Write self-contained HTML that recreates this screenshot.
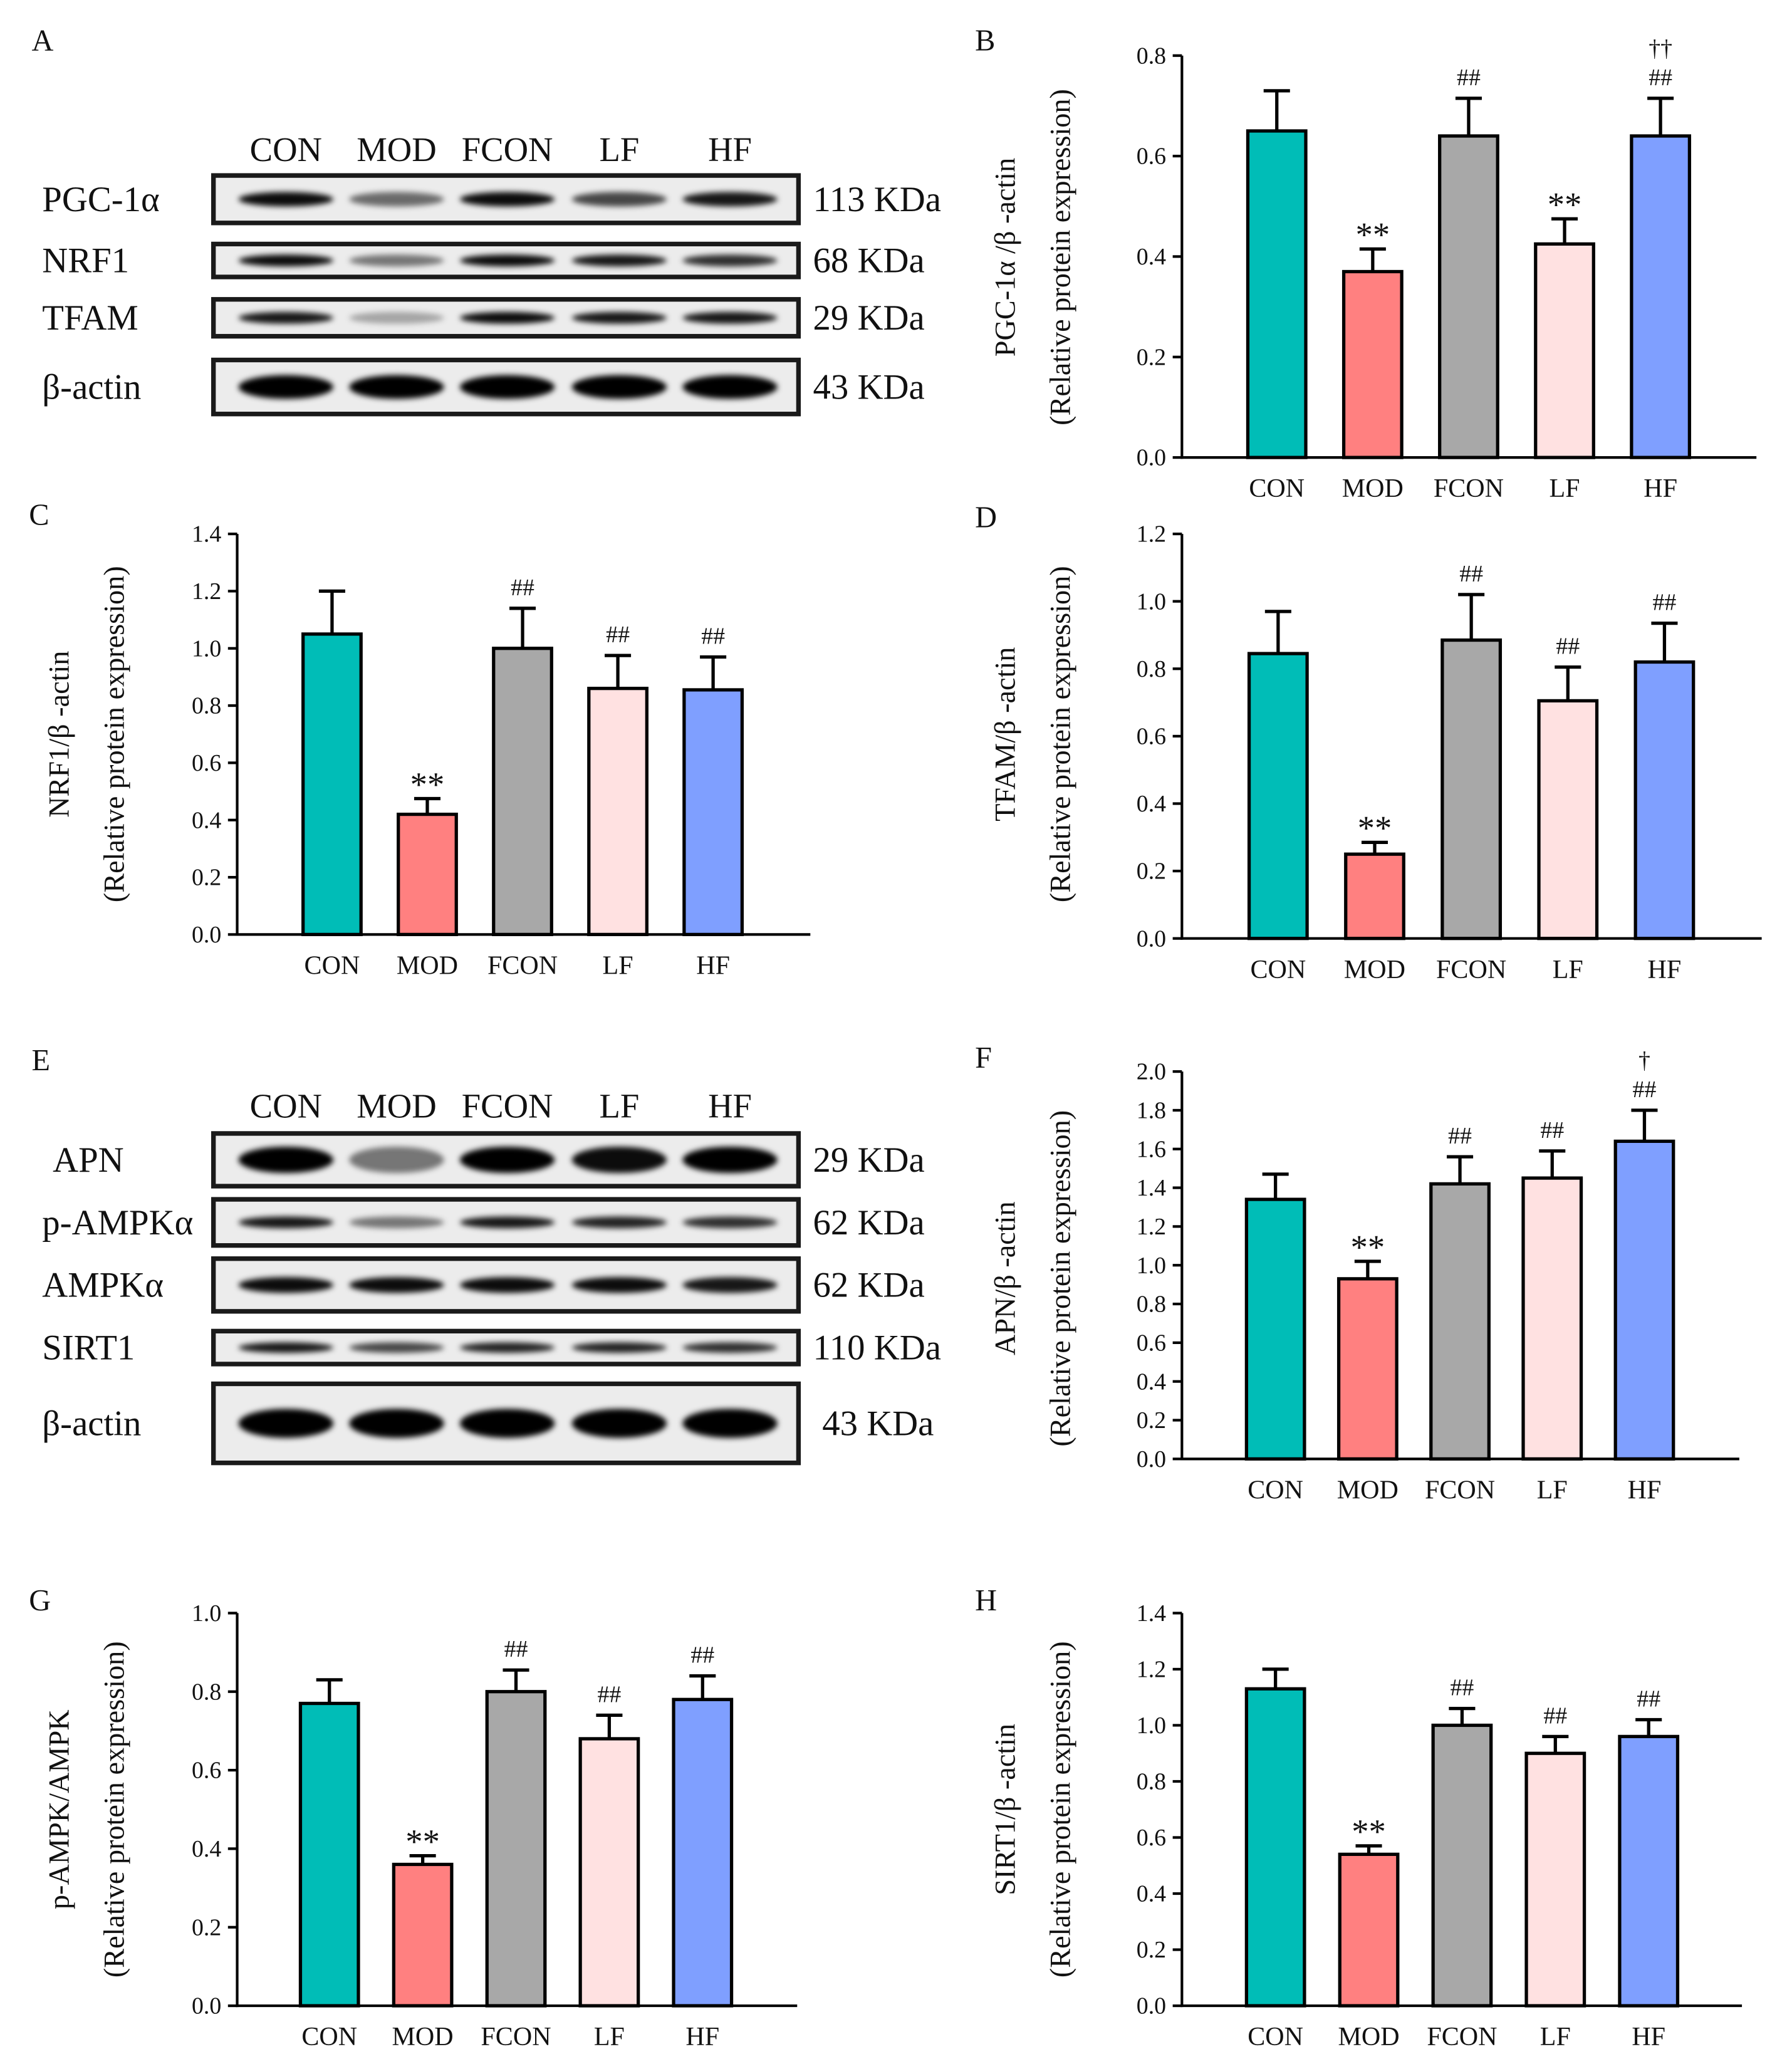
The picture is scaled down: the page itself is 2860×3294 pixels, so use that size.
<!DOCTYPE html>
<html><head><meta charset="utf-8"><style>
html,body{margin:0;padding:0;background:#fff}
svg{display:block}
text{font-family:"Liberation Serif",serif;fill:#111}
</style></head><body>
<svg id="fig" width="2860" height="3294" viewBox="0 0 1360 1566" xmlns="http://www.w3.org/2000/svg">
<defs><filter id="blur" x="-20%" y="-50%" width="140%" height="200%"><feGaussianBlur stdDeviation="2.2"/></filter></defs>
<g id="blots"></g>
<g id="charts"></g>
</svg>
<script>
const cats = ["CON","MOD","FCON","LF","HF"];
const colors = ["#00BDB7","#FF8080","#A8A8A8","#FFE1E1","#7F9FFF"];
const bValues = [0.65,0.37,0.64,0.425,0.64];
const bErrors = [0.08,0.045,0.075,0.05,0.075];
const bAnnot = [[],["**"],["##"],["**"],["##","††"]];
const bTicks = [0,0.2,0.4,0.6,0.8];
const cValues = [1.05,0.42,1.0,0.86,0.855];
const cErrors = [0.15,0.055,0.14,0.115,0.115];
const cAnnot = [[],["**"],["##"],["##"],["##"]];
const cTicks = [0,0.2,0.4,0.6,0.8,1.0,1.2,1.4];
const dValues = [0.845,0.25,0.885,0.705,0.82];
const dErrors = [0.125,0.035,0.135,0.1,0.115];
const dAnnot = [[],["**"],["##"],["##"],["##"]];
const dTicks = [0,0.2,0.4,0.6,0.8,1.0,1.2];
const fValues = [1.34,0.93,1.42,1.45,1.64];
const fErrors = [0.13,0.09,0.14,0.14,0.16];
const fAnnot = [[],["**"],["##"],["##"],["##","†"]];
const fTicks = [0,0.2,0.4,0.6,0.8,1.0,1.2,1.4,1.6,1.8,2.0];
const gValues = [0.77,0.36,0.80,0.68,0.78];
const gErrors = [0.06,0.022,0.055,0.06,0.06];
const gAnnot = [[],["**"],["##"],["##"],["##"]];
const gTicks = [0,0.2,0.4,0.6,0.8,1.0];
const hValues = [1.13,0.54,1.0,0.90,0.96];
const hErrors = [0.07,0.03,0.06,0.06,0.06];
const hAnnot = [[],["**"],["##"],["##"],["##"]];
const hTicks = [0,0.2,0.4,0.6,0.8,1.0,1.2,1.4];

const NS="http://www.w3.org/2000/svg";
function mk(parent,tag,attrs,txt){const e=document.createElementNS(NS,tag);for(const k in attrs)e.setAttribute(k,attrs[k]);if(txt!==undefined)e.textContent=txt;parent.appendChild(e);return e;}
const charts=document.getElementById('charts');

function chart(o){
  const g=mk(charts,'g',{});
  
  
  const max=o.ticks[o.ticks.length-1];
  const y=v=>o.y0-(v/max)*(o.y0-o.yTop);
  const lt=mk(g,'text',{x:o.letterX,y:o.letterY,'font-size':23},o.letter);
  
  
  const ax=mk(g,'line',{x1:o.x0,y1:o.yTop,x2:o.x0,y2:o.y0+1,stroke:'#000','stroke-width':2});
  
  
  const xa=mk(g,'line',{x1:o.x0-1,y1:o.y0,x2:o.xEnd,y2:o.y0,stroke:'#000','stroke-width':2});
  
  
  o.ticks.forEach(t=>{
    const ty=y(t);
    const tl=mk(g,'line',{x1:o.x0-7,y1:ty,x2:o.x0,y2:ty,stroke:'#000','stroke-width':2});
    
    
    const tt=mk(g,'text',{x:o.x0-12,y:ty+6,'font-size':18,'text-anchor':'end'},t.toFixed(1));
    
    
  });
  const yl1=mk(g,'text',{x:0,y:0,'font-size':22,'text-anchor':'middle',transform:`translate(${o.ylX1},${o.ylY}) rotate(-90)`},o.ylabel);
  
  
  const yl2=mk(g,'text',{x:0,y:0,'font-size':22,'text-anchor':'middle',transform:`translate(${o.ylX2},${o.ylY}) rotate(-90)`},'(Relative protein expression)');
  
  
  cats.forEach((c,i)=>{
    const cx=o.c0+i*o.sp, w=44, v=o.values[i], e=v+o.errors[i];
    const ey=y(e);
    const el=mk(g,'line',{x1:cx,y1:y(v),x2:cx,y2:ey,stroke:'#000','stroke-width':2.5});
    
    
    const ec=mk(g,'line',{x1:cx-10,y1:ey,x2:cx+10,y2:ey,stroke:'#000','stroke-width':2.5});
    
    
    const r=mk(g,'rect',{x:cx-w/2,y:y(v),width:w,height:o.y0-y(v),fill:colors[i],stroke:'#000','stroke-width':2.5});
    
    
    const xl=mk(g,'text',{x:cx,y:o.y0+30,'font-size':20,'text-anchor':'middle'},c);
    
    
    let by=ey-10;
    o.annot[i].forEach((a,k)=>{
      const isStar=a==='**';
      const at=mk(g,'text',{x:cx,y:isStar?ey-2:by-k*22,'font-size':isStar?26:18,'text-anchor':'middle',fill:isStar?'#111':'#555'},a);
      
      
    });
  });
}
chart({id:'b',letter:'B',letterX:740,letterY:38,x0:897,xEnd:1333,y0:347,yTop:42,ticks:bTicks,values:bValues,errors:bErrors,annot:bAnnot,c0:969,sp:72.8,ylabel:'PGC-1α /β -actin',ylX1:770,ylX2:812,ylY:195});
chart({id:'c',letter:'C',letterX:22,letterY:398,x0:180,xEnd:615,y0:709,yTop:405,ticks:cTicks,values:cValues,errors:cErrors,annot:cAnnot,c0:252,sp:72.3,ylabel:'NRF1/β -actin',ylX1:52,ylX2:94,ylY:557});
chart({id:'d',letter:'D',letterX:740,letterY:400,x0:897,xEnd:1337,y0:712,yTop:405,ticks:dTicks,values:dValues,errors:dErrors,annot:dAnnot,c0:970,sp:73.3,ylabel:'TFAM/β -actin',ylX1:770,ylX2:812,ylY:557});
chart({id:'f',letter:'F',letterX:740,letterY:810,x0:897,xEnd:1320,y0:1107,yTop:813,ticks:fTicks,values:fValues,errors:fErrors,annot:fAnnot,c0:968,sp:70,ylabel:'APN/β -actin',ylX1:770,ylX2:812,ylY:970});
chart({id:'g',letter:'G',letterX:22,letterY:1222,x0:180,xEnd:605,y0:1522,yTop:1224,ticks:gTicks,values:gValues,errors:gErrors,annot:gAnnot,c0:250,sp:70.8,ylabel:'p-AMPK/AMPK',ylX1:52,ylX2:94,ylY:1373});
chart({id:'h',letter:'H',letterX:740,letterY:1222,x0:897,xEnd:1322,y0:1522,yTop:1224,ticks:hTicks,values:hValues,errors:hErrors,annot:hAnnot,c0:968,sp:70.8,ylabel:'SIRT1/β -actin',ylX1:770,ylX2:812,ylY:1373});

// Blots
const blots=document.getElementById('blots');
const lanes=[217,301,385,470,554];
function blotPanel(id,letter,letterY,headerY,rows){
  const g=mk(blots,'g',{});
  
  
  const lt=mk(g,'text',{x:24,y:letterY,'font-size':23},letter);
  
  
  cats.forEach((c,i)=>{
    const h=mk(g,'text',{x:lanes[i],y:headerY,'font-size':26,'text-anchor':'middle'},c);
    
    
  });
  rows.forEach(r=>{
    const rg=mk(g,'g',{});
    
    
    mk(rg,'rect',{x:162,y:r.y,width:444,height:r.h,fill:'#ececec',stroke:'#1a1a1a','stroke-width':3.5});
    const cy=r.y+r.h/2;
    r.int.forEach((a,i)=>{
      const b=mk(rg,'ellipse',{cx:lanes[i],cy:cy,rx:36,ry:r.bh*0.5,fill:'#000','fill-opacity':a,filter:'url(#blur)'});
      
      
    });
    const ln=mk(rg,'text',{x:r.lx||32,y:cy+9,'font-size':27},r.name);
    
    
    const kd=mk(rg,'text',{x:r.kx||617,y:cy+9,'font-size':27},r.kda);
    
    
  });
}
blotPanel('a','A',38,122,[
  {name:'PGC-1α',kda:'113 KDa',y:133,h:36,bh:11,int:[0.95,0.55,0.95,0.7,0.9]},
  {name:'NRF1',kda:'68 KDa',y:185,h:25,bh:9,int:[0.95,0.5,0.95,0.9,0.8]},
  {name:'TFAM',kda:'29 KDa',y:227,h:28,bh:9,int:[0.9,0.3,0.95,0.9,0.9]},
  {name:'β-actin',kda:'43 KDa',y:273,h:41,bh:18,int:[1,1,1,1,1]}
]);
blotPanel('e','E',812,848,[
  {name:'APN',kda:'29 KDa',y:860,h:40,bh:20,int:[1,0.5,1,0.95,1],lx:40},
  {name:'p-AMPKα',kda:'62 KDa',y:910,h:35,bh:9,int:[0.9,0.5,0.9,0.85,0.8]},
  {name:'AMPKα',kda:'62 KDa',y:955,h:40,bh:12,int:[0.95,0.95,0.95,0.95,0.9]},
  {name:'SIRT1',kda:'110 KDa',y:1010,h:25,bh:8,int:[0.9,0.7,0.85,0.85,0.8]},
  {name:'β-actin',kda:'43 KDa',y:1050,h:60,bh:22,int:[1,1,1,1,1],kx:624}
]);
</script>
</body></html>
